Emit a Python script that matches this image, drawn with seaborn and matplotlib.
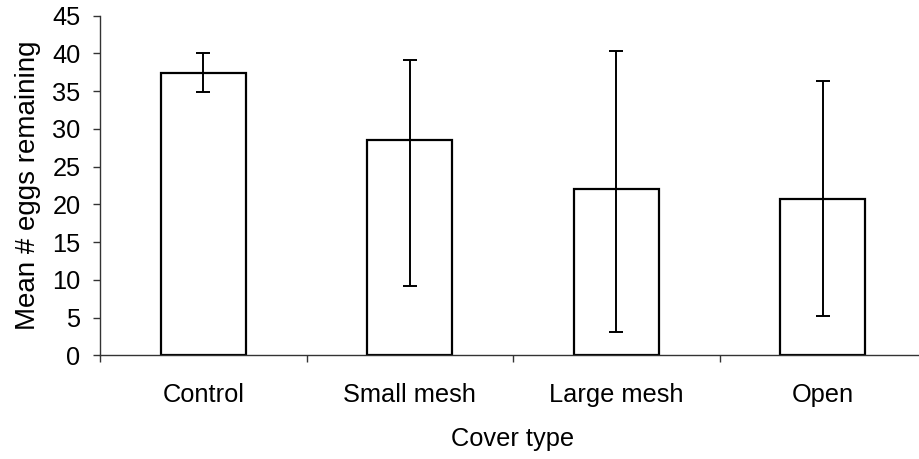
import matplotlib
matplotlib.use("Agg")
import matplotlib.pyplot as plt
import seaborn as sns
import numpy as np
import pandas as pd

categories = ["Control", "Small mesh", "Large mesh", "Open"]
means = [37.4, 28.5, 22.0, 20.7]
err_low = [34.9, 9.2, 3.1, 5.2]
err_high = [40.1, 39.1, 40.3, 36.3]
y_ticks = [0, 5, 10, 15, 20, 25, 30, 35, 40, 45]

sns.set_theme(style="white")
plt.rcParams["font.family"] = ["Liberation Sans", "DejaVu Sans"]

df = pd.DataFrame({"cover": categories, "mean": means})

fig = plt.figure(figsize=(9.2, 4.59), dpi=100)
ax = fig.add_axes([100/920, 103.7/459, 826/920, 339.6/459])

sns.barplot(data=df, x="cover", y="mean", order=categories, ax=ax,
            color="white", edgecolor="black", linewidth=1.6, width=0.41,
            errorbar=None)

xpos = np.arange(len(categories))
m = np.array(means)
lo = m - np.array(err_low)
hi = np.array(err_high) - m
ax.errorbar(xpos, m, yerr=[lo, hi], fmt="none", ecolor="black",
            elinewidth=1.4, capsize=5, capthick=1.4, zorder=5)

ax.set_xlim(-0.5, len(categories) - 0.5)
ax.set_ylim(0, 45)
ax.set_yticks(y_ticks)
ax.tick_params(axis="y", which="major", direction="out", length=5, width=1,
               color="#333333", pad=9, labelsize=18.3, left=True)

ax.set_xticks(xpos)
ax.set_xticklabels(categories)
ax.tick_params(axis="x", which="major", length=0, pad=20, labelsize=18.3)
ax.set_xticks(np.arange(-0.5, len(categories), 1.0), minor=True)
ax.tick_params(axis="x", which="minor", direction="out", length=5, width=1,
               color="#333333", bottom=True)

for s in ["top", "right"]:
    ax.spines[s].set_visible(False)
for s in ["left", "bottom"]:
    ax.spines[s].set_visible(True)
    ax.spines[s].set_color("#333333")
    ax.spines[s].set_linewidth(1.0)

ax.set_xlabel("Cover type", fontsize=18.3, labelpad=14, color="black")
ax.set_ylabel("Mean # eggs remaining", fontsize=20, labelpad=8, color="black")
for lab in ax.get_xticklabels() + ax.get_yticklabels():
    lab.set_color("black")

fig.savefig("out.png", dpi=100, facecolor="white")
